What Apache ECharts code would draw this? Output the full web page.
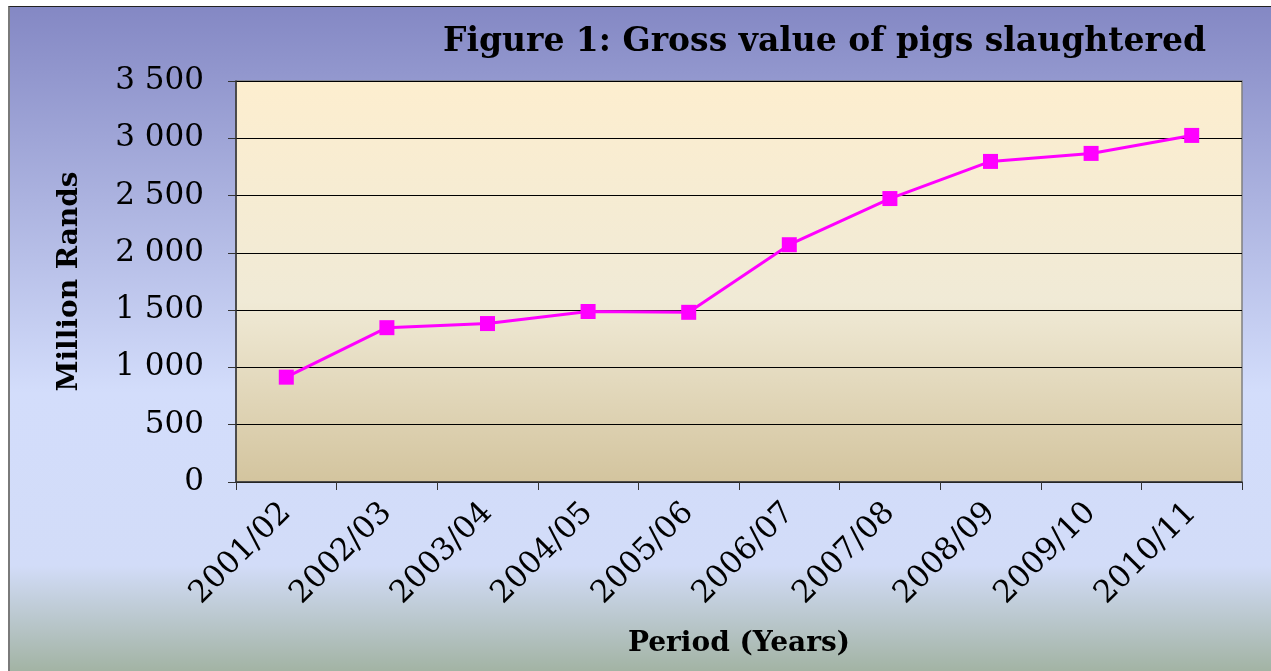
<!DOCTYPE html>
<html>
<head>
<meta charset="utf-8">
<script src="https://cdn.jsdelivr.net/npm/echarts@6/dist/echarts.min.js"></script>
<style>
  html, body { margin: 0; padding: 0; background: #fff; }
  #chart {
    position: absolute; left: 8px; top: 6px;
    width: 1263px; height: 665px;
    border-top: 1px solid #222;
    border-left: 2px solid #7a7a7a;
  }
</style>
</head>
<body>
<div id="chart"></div>
<script>
  // periods and gross value (million rands)
  const periods = ['2001/02', '2002/03', '2003/04', '2004/05', '2005/06',
                   '2006/07', '2007/08', '2008/09', '2009/10', '2010/11'];
  const grossValue = [915, 1347, 1383, 1488, 1481, 2071, 2474, 2798, 2868, 3025];
  const yTicks = [0, 500, 1000, 1500, 2000, 2500, 3000, 3500];

  const serif = 'DejaVu Serif';
  const chart = echarts.init(document.getElementById('chart'));

  const option = {
    animation: false,
    backgroundColor: {
      type: 'linear', x: 0, y: 0, x2: 0, y2: 1,
      colorStops: [
        {offset: 0, color: '#8488c4'},
        {offset: 0.58, color: '#d3ddfb'},
        {offset: 0.84, color: '#d2dcf8'},
        {offset: 1, color: '#a2b3a3'}
      ]
    },
    title: {
      text: 'Figure 1: Gross value of pigs slaughtered',
      right: 62,
      top: 14,
      textStyle: {fontFamily: serif, fontWeight: 'bold', fontSize: 33, color: '#000'}
    },
    grid: {
      left: 226,
      top: 74,
      width: 1006,
      height: 401,
      show: true,
      borderColor: '#808080',
      borderWidth: 1.5,
      backgroundColor: {
        type: 'linear', x: 0, y: 0, x2: 0, y2: 1,
        colorStops: [
          {offset: 0, color: '#fdeecf'},
          {offset: 0.55, color: '#f0ead6'},
          {offset: 1, color: '#d3c49e'}
        ]
      }
    },
    xAxis: {
      type: 'category',
      data: periods,
      boundaryGap: true,
      name: 'Period (Years)',
      nameLocation: 'middle',
      nameGap: 148,
      nameTextStyle: {fontFamily: serif, fontWeight: 'bold', fontSize: 28, color: '#000'},
      axisLine: {lineStyle: {color: '#333', width: 1.5}},
      axisTick: {show: true, length: 8, lineStyle: {color: '#333'}},
      axisLabel: {
        rotate: 45,
        margin: 26,
        fontFamily: serif,
        fontSize: 31,
        color: '#000'
      }
    },
    yAxis: {
      type: 'value',
      min: 0,
      max: 3500,
      interval: 500,
      name: 'Million Rands',
      nameLocation: 'middle',
      nameGap: 152,
      nameRotate: 90,
      nameTextStyle: {fontFamily: serif, fontWeight: 'bold', fontSize: 28, color: '#000'},
      axisLine: {show: true, lineStyle: {color: '#333', width: 1.5}},
      axisTick: {show: true, length: 8, lineStyle: {color: '#333'}},
      splitLine: {lineStyle: {color: '#000', width: 1}},
      axisLabel: {
        margin: 32,
        fontFamily: serif,
        fontSize: 31,
        color: '#000',
        formatter: function (v) {
          return yTicks.indexOf(v) >= 0 ? String(v).replace(/\B(?=(\d{3})+$)/g, ' ') : ''
        }
      }
    },
    series: [{
      type: 'line',
      data: grossValue,
      symbol: 'rect',
      symbolSize: 15,
      lineStyle: {color: '#ff00ff', width: 3},
      itemStyle: {color: '#ff00ff'}
    }]
  };

  chart.setOption(option);
</script>
</body>
</html>
